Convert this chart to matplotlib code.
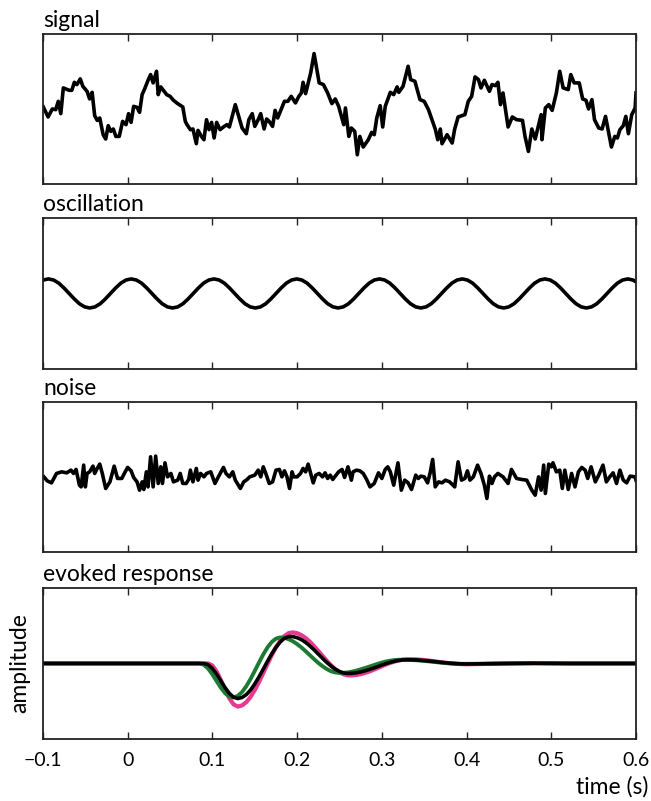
import numpy as np
import matplotlib
matplotlib.use("Agg")
import matplotlib.pyplot as plt

plt.rcParams['font.family'] = ['Lato', 'DejaVu Sans']

# ---------------- data ----------------
titles = ['signal', 'oscillation', 'noise', 'evoked response']
xtick_values = [-0.1, 0.0, 0.1, 0.2, 0.3, 0.4, 0.5, 0.6]
xtick_labels = ['\u22120.1', '0', '0.1', '0.2', '0.3', '0.4', '0.5', '0.6']

signal_t = [-0.100,-0.094,-0.089,-0.085,-0.082,-0.079,-0.076,-0.069,-0.066,-0.063,
            -0.060,-0.056,-0.053,-0.048,-0.045,-0.042,-0.039,-0.036,-0.033,-0.029,
            -0.026,-0.023,-0.020,-0.017,-0.014,-0.010,-0.006,-0.002,0.001,0.004,
            0.007,0.011,0.014,0.017,0.020,0.024,0.027,0.030,0.034,0.036,
            0.039,0.043,0.046,0.050,0.054,0.059,0.065,0.068,0.070,0.074,
            0.077,0.081,0.083,0.087,0.090,0.093,0.096,0.099,0.102,0.105,
            0.109,0.113,0.117,0.120,0.127,0.131,
            0.135,0.140,0.143,0.147,0.150,0.154,0.157,0.161,0.164,0.167,
            0.171,0.174,0.177,0.185,0.189,0.193,0.198,0.202,0.205,0.207,
            0.210,0.216,0.220,0.226,0.231,0.236,0.241,0.245,0.249,0.255,
            0.257,0.261,0.264,0.268,0.271,0.274,0.278,0.284,0.288,0.291,
            0.294,0.298,0.301,0.304,0.310,0.314,0.318,0.320,0.325,0.331,
            0.334,0.339,0.345,0.350,0.355,
            0.363,0.366,0.369,0.371,0.377,0.383,0.386,0.390,0.398,0.402,
            0.406,0.410,0.414,0.417,0.421,0.427,0.430,0.434,0.437,0.440,
            0.443,0.449,0.454,0.459,0.466,0.469,0.473,0.477,0.481,0.488,
            0.489,0.493,0.497,0.501,0.506,0.510,0.514,0.520,0.523,0.527,
            0.533,0.537,0.541,0.544,0.548,0.551,0.556,0.560,0.564,0.571,
            0.575,0.578,0.581,0.585,0.588,0.591,0.595,0.599,0.600]
signal_v = [0.23,-0.83,-0.03,-0.10,0.73,-0.50,2.07,1.83,1.83,2.63,
            2.40,2.97,2.23,1.73,0.97,1.63,-0.70,-1.17,-0.93,-2.60,
            -3.03,-1.70,-2.27,-2.03,-2.77,-2.77,-1.27,-1.60,-0.50,-1.37,
            0.23,0.13,-0.37,1.40,1.97,2.83,3.40,2.57,3.73,1.40,
            2.17,1.73,1.40,1.23,0.83,0.50,0.17,-1.27,-1.60,-2.10,
            -2.03,-3.50,-2.17,-2.77,-3.10,-1.10,-2.10,-1.37,-2.93,-1.37,
            -2.10,-1.83,-1.60,-1.83,0.40,-0.77,
            -1.93,-2.50,-1.10,-0.50,-1.77,-1.10,-0.50,-2.03,-1.03,-1.27,
            -1.77,-0.17,-0.93,0.73,0.73,1.23,0.57,1.23,1.57,2.63,
            1.50,3.57,5.50,2.57,2.40,1.57,0.50,0.97,0.23,-1.60,
            0.07,-2.77,-1.93,-2.27,-4.60,-2.77,-3.83,-3.10,-2.37,-2.60,
            -0.93,0.30,-1.83,0.23,1.63,1.40,2.17,1.63,2.23,4.23,
            2.90,2.73,0.90,0.73,-0.10,
            -2.03,-3.10,-2.03,-3.50,-2.60,-3.43,-2.03,-0.83,-0.60,0.73,
            1.23,3.17,2.90,2.07,2.83,1.73,2.40,2.30,2.63,0.40,
            1.57,-1.83,-0.83,-1.10,-1.17,-2.77,-4.27,-2.03,-3.03,-0.60,
            -3.10,0.07,0.40,-0.17,1.57,3.73,2.07,1.90,3.40,2.57,
            2.57,0.97,0.83,-0.03,0.90,-1.10,-1.93,-2.03,-0.77,-3.83,
            -2.77,-2.93,-2.10,-1.70,-0.77,-2.50,-0.60,0.07,1.57]

# oscillation: sample times every 0.006106 s, values
osc_t = np.linspace(-0.0997, 0.6025, 116)
osc_v = [1.34,
         1.45,1.34,1.03,0.55,0.00,-0.55,-1.03,-1.34,-1.45,-1.34,-1.03,-0.55,0.00,0.55,1.03,1.34,
         1.45,1.34,1.03,0.55,0.00,-0.55,-1.03,-1.34,-1.45,-1.34,-1.03,-0.55,0.00,0.55,1.03,1.34,
         1.45,1.34,1.03,0.55,0.00,-0.55,-1.03,-1.34,-1.45,-1.34,-1.03,-0.55,0.00,0.55,1.03,1.34,
         1.45,1.34,1.03,0.55,0.00,-0.55,-1.03,-1.34,-1.45,-1.34,-1.03,-0.55,0.00,0.55,1.03,1.34,
         1.45,1.34,1.03,0.55,0.00,-0.55,-1.03,-1.34,-1.45,-1.34,-1.03,-0.55,0.00,0.55,1.03,1.34,
         1.45,1.34,1.03,0.55,0.00,-0.55,-1.03,-1.34,-1.45,-1.34,-1.03,-0.55,0.00,0.55,1.03,1.34,
         1.45,1.34,1.03,0.55,0.00,-0.55,-1.03,-1.34,-1.45,-1.34,-1.03,-0.55,0.00,0.55,1.03,1.34,
         1.45,1.34,1.03]

noise_t = [-0.099,-0.095,-0.090,-0.084,-0.078,-0.072,-0.067,-0.064,-0.061,-0.057,
           -0.055,-0.052,-0.050,-0.048,-0.045,-0.041,-0.039,-0.036,-0.033,-0.030,
           -0.026,-0.021,-0.016,-0.012,-0.007,-0.003,0.000,0.004,0.007,0.011,
           0.014,0.017,0.019,0.022,0.024,0.027,0.030,0.033,0.036,0.039,
           0.041,0.044,0.047,0.051,0.054,0.059,0.062,0.065,0.069,0.072,
           0.074,0.077,0.081,0.083,0.086,0.090,0.093,0.098,0.103,0.107,
           0.113,0.116,0.120,0.124,0.127,0.129,0.133,0.137,0.141,0.144,
           0.150,0.154,0.157,0.160,0.163,0.167,0.171,0.175,0.179,0.182,
           0.185,0.188,0.191,0.194,0.196,0.200,0.204,0.207,0.210,0.213,
           0.216,0.219,0.222,0.226,0.230,0.233,0.236,0.239,0.242,0.245,
           0.249,0.253,0.256,0.260,0.264,0.266,0.270,0.274,0.278,0.282,
           0.286,0.291,0.296,0.300,0.304,0.307,0.310,0.314,0.319,0.323,
           0.327,0.331,0.335,0.340,0.343,0.346,0.350,0.354,0.357,0.360,
           0.363,0.367,0.371,0.375,0.380,0.386,0.390,0.394,0.398,0.401,
           0.404,0.408,0.413,0.417,0.421,0.424,0.427,0.430,0.433,0.437,
           0.443,0.449,0.453,0.459,0.465,0.471,0.477,0.481,0.485,0.488,
           0.491,0.493,0.497,0.500,0.502,0.506,0.510,0.513,0.516,0.520,
           0.524,0.528,0.532,0.536,0.540,0.543,0.547,0.552,0.556,0.561,
           0.565,0.569,0.573,0.577,0.581,0.585,0.589,0.593,0.599,0.600]
noise_v = [0.03,-0.37,-0.57,0.37,0.53,0.43,0.70,0.37,0.77,-0.80,
           -0.97,1.20,-0.97,0.37,0.53,1.10,0.37,0.87,1.30,0.37,
           -1.13,-0.47,1.10,-0.13,-0.13,0.53,0.97,0.63,-0.03,-0.47,
           -1.30,-0.47,-1.23,0.53,-0.97,2.03,-0.97,2.10,-0.63,1.03,
           -0.63,1.43,0.03,0.37,-0.47,-0.30,0.37,-0.63,-0.63,-0.23,
           0.70,-0.47,0.87,-0.30,0.37,0.03,0.37,0.53,-0.63,0.03,
           0.97,0.37,0.03,0.53,-0.30,-0.57,-1.13,-0.47,-0.23,0.03,
           0.20,0.70,0.03,1.03,0.37,-0.63,-0.47,0.70,0.77,0.03,
           0.63,0.03,-1.13,0.53,0.03,0.03,0.37,0.87,0.53,1.30,
           0.37,-0.57,0.20,0.37,0.03,0.43,-0.13,0.20,-0.23,0.10,
           0.53,0.77,-0.03,1.03,-0.30,0.53,0.70,0.63,0.37,-0.23,
           -0.97,-0.63,0.43,-0.13,0.77,1.03,0.53,-0.80,1.43,-1.30,
           -0.30,-0.57,-1.23,0.20,-0.13,0.10,0.03,-0.57,0.43,1.77,
           -0.97,-0.47,-0.57,-0.30,-0.47,-0.97,1.53,-0.30,-0.13,0.63,
           -0.30,0.03,1.20,0.37,-0.80,-2.13,0.10,-0.63,0.03,0.37,
           0.03,-0.63,0.77,-0.13,-0.23,-0.30,-1.30,-1.80,0.03,-1.30,
           1.20,-1.63,1.30,1.03,1.43,0.53,0.70,-1.13,0.70,-1.23,
           0.37,-0.97,0.53,0.97,0.70,-0.13,1.03,-0.47,0.20,1.20,
           -0.47,0.03,0.43,-0.63,0.70,-0.30,-0.57,0.10,0.03,-0.30]

evoked_t = [-0.100] + [round(0.080 + 0.005 * i, 3) for i in range(65)] + [0.42, 0.45, 0.48, 0.52, 0.60]
evoked_magenta = [0.0,
    0.0,0.0,0.0,0.0,-0.21,-0.81,-1.67,-2.63,-3.49,-4.09,
    -4.30,-4.19,-3.86,-3.34,-2.66,-1.85,-0.96,-0.06,0.82,1.61,
    2.26,2.74,3.03,3.10,3.02,2.83,2.54,2.17,1.73,1.25,
    0.75,0.27,-0.18,-0.57,-0.88,-1.09,-1.19,-1.19,-1.15,-1.07,
    -0.95,-0.81,-0.64,-0.46,-0.28,-0.10,0.06,0.19,0.30,0.38,
    0.42,0.42,0.41,0.38,0.34,0.29,0.24,0.18,0.12,0.07,
    0.02,-0.02,-0.05,-0.07,-0.08,
    -0.05,0.0,0.02,0.0,0.0]
evoked_green = [0.0,
    0.0,0.0,-0.14,-0.52,-1.10,-1.77,-2.43,-2.97,-3.31,-3.40,
    -3.23,-2.85,-2.27,-1.55,-0.74,0.10,0.90,1.60,2.14,2.48,
    2.60,2.56,2.42,2.21,1.93,1.60,1.22,0.83,0.43,0.05,
    -0.28,-0.56,-0.78,-0.90,-0.95,-0.93,-0.89,-0.81,-0.71,-0.59,
    -0.46,-0.32,-0.18,-0.04,0.09,0.20,0.28,0.34,0.37,0.37,
    0.36,0.34,0.32,0.29,0.25,0.21,0.16,0.12,0.08,0.04,
    0.01,-0.01,-0.03,-0.04,-0.04,
    -0.03,0.0,0.02,0.0,0.0]
evoked_black = [0.0,
    0.0,0.0,0.0,-0.13,-0.51,-1.08,-1.75,-2.42,-2.99,-3.37,
    -3.50,-3.40,-3.11,-2.65,-2.04,-1.33,-0.56,0.22,0.96,1.62,
    2.14,2.51,2.68,2.68,2.57,2.38,2.10,1.75,1.36,0.93,
    0.51,0.10,-0.26,-0.57,-0.80,-0.95,-1.00,-0.98,-0.93,-0.85,
    -0.74,-0.61,-0.47,-0.32,-0.16,-0.02,0.11,0.22,0.30,0.35,
    0.37,0.36,0.35,0.32,0.29,0.25,0.21,0.16,0.11,0.07,
    0.03,0.00,-0.03,-0.04,-0.05,
    -0.03,0.0,0.02,0.0,0.0]

# ---------------- figure ----------------
W, H = 651, 801
fig = plt.figure(figsize=(W / 100, H / 100), dpi=100)

left_px, right_px = 43, 636
panel_tops = [33.5, 218.3, 402, 588.3]
panel_h = 150.3

axes = []
for top in panel_tops:
    ax = fig.add_axes([left_px / W, (H - top - panel_h) / H,
                       (right_px - left_px) / W, panel_h / H])
    axes.append(ax)

lw = 2.6
axes[0].plot(signal_t, signal_v, color='black', lw=lw, solid_joinstyle='round')
axes[1].plot(osc_t, osc_v, color='black', lw=lw)
axes[2].plot(noise_t, noise_v, color='black', lw=lw, solid_joinstyle='round')
axes[3].plot(evoked_t, evoked_magenta, color='#e7398f', lw=3.0)
axes[3].plot(evoked_t, evoked_green, color='#1c7a33', lw=2.8)
axes[3].plot(evoked_t, evoked_black, color='black', lw=2.6)

for i, ax in enumerate(axes):
    ax.set_xlim(-0.1, 0.6)
    ax.set_ylim(-7.5, 7.5)
    ax.set_yticks([])
    ax.set_xticks(xtick_values)
    ax.tick_params(axis='x', direction='in', top=True, bottom=True,
                   length=5, width=1.0, color='#222222', pad=10)
    for sp in ax.spines.values():
        sp.set_linewidth(1.3)
        sp.set_color('#222222')
    ax.set_title(titles[i], loc='left', fontsize=16.5, pad=5)
    if i < 3:
        ax.set_xticklabels([])
    else:
        ax.set_xticklabels(xtick_labels, fontsize=14)

axes[3].set_ylabel('amplitude', fontsize=16.5, labelpad=9)
fig.text(648 / W, (H - 787) / H, 'time (s)', ha='right', va='center', fontsize=16.5)

fig.savefig('out.png', dpi=100)
